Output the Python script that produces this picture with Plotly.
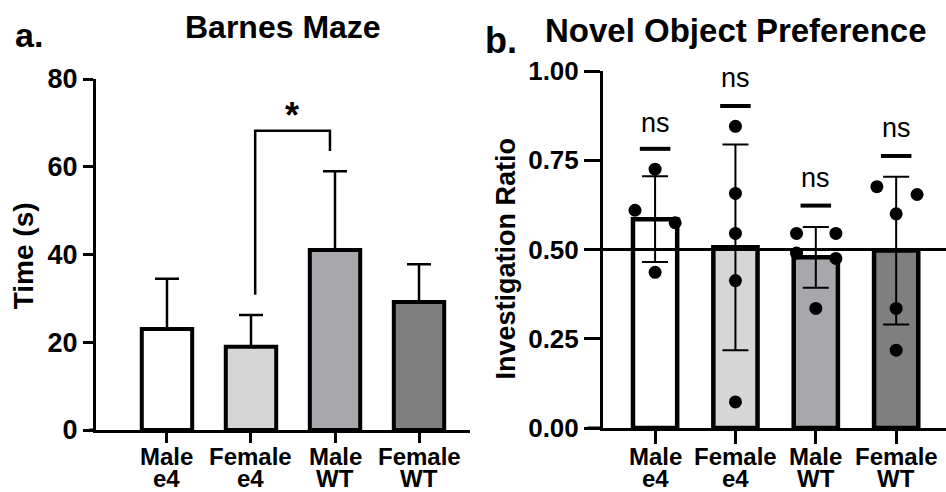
import plotly.graph_objects as go

W, H = 946, 492

# ---------------- data ----------------
groups_line1 = ["Male", "Female", "Male", "Female"]
groups_line2 = ["e4", "e4", "WT", "WT"]
bar_colors = ["#ffffff", "#d6d6d6", "#a7a7ac", "#7f7f7f"]

# Panel a: Barnes Maze (mean, upper SD)
barnes_mean = [23.0, 19.0, 41.0, 29.2]
barnes_err = [11.5, 7.2, 18.0, 8.6]
sig_left_y, sig_top_y, sig_right_y = 30.8, 68.2, 63.6
sig_star_y = 71.7

# Panel b: Novel Object Preference (mean, SD, individual points)
nop_mean = [0.585, 0.506, 0.478, 0.497]
nop_sd = [0.12, 0.288, 0.085, 0.207]
nop_points = [
    [0.725, 0.61, 0.575, 0.436],
    [0.845, 0.657, 0.545, 0.413, 0.073],
    [0.545, 0.545, 0.49, 0.475, 0.335],
    [0.676, 0.654, 0.60, 0.335, 0.218],
]
nop_jitter = [
    [0.0, -0.25, 0.25, 0.0],
    [0.0, 0.0, 0.0, 0.0, 0.0],
    [-0.24, 0.25, -0.24, 0.25, 0.0],
    [-0.24, 0.26, 0.0, 0.0, 0.0],
]
ns_line_y = [0.782, 0.902, 0.623, 0.762]
ns_text_y = [0.855, 0.979, 0.701, 0.841]
chance_level = 0.5

xpos = [0, 1, 2, 3]


def px(x):
    return x / W


def py(y):
    return 1 - y / H


FONT = "Arial"
BOLD = dict(family=FONT, color="black", weight="bold")

fig = go.Figure()

# Panel a bars
fig.add_trace(go.Bar(
    x=xpos, y=barnes_mean, width=0.6,
    marker=dict(color=bar_colors, line=dict(color="black", width=4)),
    error_y=dict(type="data", symmetric=False, array=barnes_err,
                 arrayminus=[0] * 4, color="black", thickness=2.5, width=12),
    xaxis="x", yaxis="y", showlegend=False,
))

# Panel b bars
fig.add_trace(go.Bar(
    x=xpos, y=nop_mean, width=0.55,
    marker=dict(color=bar_colors, line=dict(color="black", width=4.5)),
    error_y=dict(type="data", array=nop_sd, color="black", thickness=2, width=13),
    xaxis="x2", yaxis="y2", showlegend=False,
))

# Panel b points
for i, (pts, jit) in enumerate(zip(nop_points, nop_jitter)):
    fig.add_trace(go.Scatter(
        x=[xpos[i] + j for j in jit], y=pts, mode="markers",
        marker=dict(color="black", size=13),
        xaxis="x2", yaxis="y2", showlegend=False,
    ))

shapes = []
# significance bracket (panel a)
shapes.append(dict(
    type="path", xref="x", yref="y",
    path=f"M 1.05,{sig_left_y} L 1.05,{sig_top_y} L 1.94,{sig_top_y} L 1.94,{sig_right_y}",
    line=dict(color="black", width=2.5),
))
# chance line (panel b)
shapes.append(dict(
    type="line", xref="x2 domain", yref="y2", x0=-0.045, x1=1, y0=chance_level, y1=chance_level,
    line=dict(color="black", width=3), layer="above",
))
# x-axis extension (panel b)
shapes.append(dict(
    type="line", xref="x2 domain", yref="y2", x0=-0.045, x1=0, y0=0, y1=0,
    line=dict(color="black", width=3),
))
# x-axis extension (panel a)
shapes.append(dict(
    type="line", xref="x domain", yref="y", x0=-0.018, x1=0, y0=0, y1=0,
    line=dict(color="black", width=3),
))
# ns lines
for i, ly in enumerate(ns_line_y):
    shapes.append(dict(
        type="line", xref="x2", yref="y2", x0=xpos[i] - 0.19, x1=xpos[i] + 0.19,
        y0=ly, y1=ly, line=dict(color="black", width=4),
    ))

annotations = []
for i, ty in enumerate(ns_text_y):
    annotations.append(dict(
        x=xpos[i], y=ty, xref="x2", yref="y2", text="ns", showarrow=False,
        font=dict(family=FONT, size=27, color="black"), yanchor="middle",
    ))
annotations.append(dict(
    x=1.49, y=sig_star_y, xref="x", yref="y", text="*", showarrow=False,
    font=dict(**BOLD, size=36), yanchor="middle",
))

# category labels (two lines, tight leading) for both panels
for xr in ["x", "x2"]:
    for i in range(4):
        annotations.append(dict(
            x=xpos[i], y=py(456.5), xref=xr, yref="paper", text=groups_line1[i],
            showarrow=False, font=dict(**BOLD, size=24), xanchor="center", yanchor="middle",
        ))
        annotations.append(dict(
            x=xpos[i], y=py(478.5), xref=xr, yref="paper", text=groups_line2[i],
            showarrow=False, font=dict(**BOLD, size=24), xanchor="center", yanchor="middle",
        ))

# titles and panel letters
annotations += [
    dict(x=px(283), y=py(26.9), xref="paper", yref="paper", text="Barnes Maze",
         showarrow=False, font=dict(**BOLD, size=32), xanchor="center", yanchor="middle"),
    dict(x=px(736), y=py(30.6), xref="paper", yref="paper", text="Novel Object Preference",
         showarrow=False, font=dict(**BOLD, size=33), xanchor="center", yanchor="middle"),
    dict(x=px(29), y=py(35.2), xref="paper", yref="paper", text="a.",
         showarrow=False, font=dict(**BOLD, size=34), xanchor="center", yanchor="middle"),
    dict(x=px(501), y=py(40.5), xref="paper", yref="paper", text="b.",
         showarrow=False, font=dict(**BOLD, size=36), xanchor="center", yanchor="middle"),
    dict(x=px(23.3), y=py(256), xref="paper", yref="paper", text="Time (s)", textangle=-90,
         showarrow=False, font=dict(**BOLD, size=28), xanchor="center", yanchor="middle"),
    dict(x=px(505.6), y=py(259), xref="paper", yref="paper", text="Investigation Ratio", textangle=-90,
         showarrow=False, font=dict(**BOLD, size=27), xanchor="center", yanchor="middle"),
]

axis_common = dict(
    showgrid=False, zeroline=False, showline=True, linecolor="black", linewidth=3,
    ticks="outside", tickcolor="black", tickwidth=3,
)

fig.update_layout(
    width=W, height=H,
    margin=dict(l=0, r=0, t=0, b=0, autoexpand=False),
    paper_bgcolor="white", plot_bgcolor="white",
    barmode="overlay",
    xaxis=dict(**axis_common, domain=[px(96), px(470)], range=[-0.845, 3.607],
               tickvals=xpos, showticklabels=False, ticklen=10, anchor="y"),
    yaxis=dict(**axis_common, domain=[py(430), py(79)], range=[0, 80],
               tickvals=[0, 20, 40, 60, 80], ticklen=10, anchor="x",
               tickfont=dict(**BOLD, size=27)),
    xaxis2=dict(**axis_common, domain=[px(603), 1.0], range=[-0.648, 3.62],
                tickvals=xpos, showticklabels=False, ticklen=13, anchor="y2"),
    yaxis2=dict(**axis_common, domain=[py(428), py(71)], range=[0, 1],
                tickvals=[0, 0.25, 0.5, 0.75, 1.0], ticktext=["0.00", "0.25", "0.50", "0.75", "1.00"],
                ticklen=16, anchor="x2",
                tickfont=dict(**BOLD, size=26)),
    shapes=shapes,
    annotations=annotations,
)

fig.write_html(
    "out.html",
    config={"displayModeBar": False},
    post_script="document.body.style.margin='0';document.body.style.padding='0';"
                "document.documentElement.style.overflow='hidden';",
)
